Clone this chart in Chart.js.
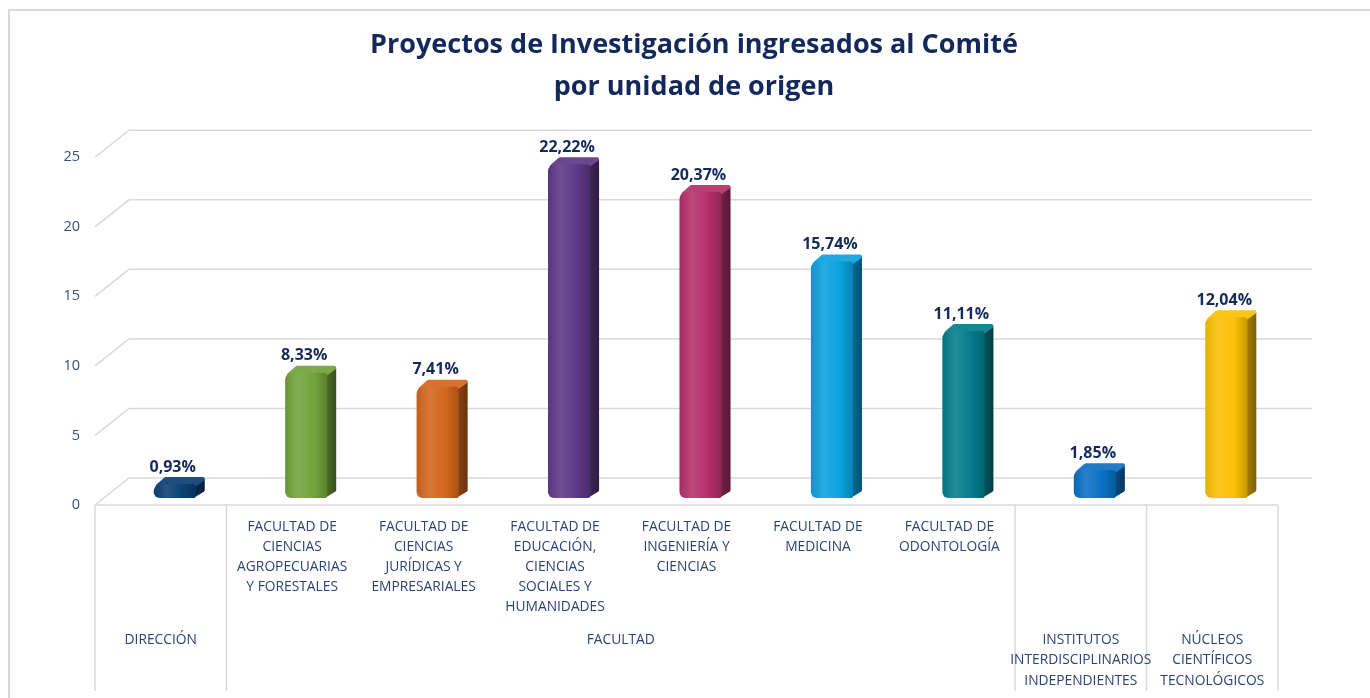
<!DOCTYPE html>
<html>
<head>
    <meta charset="utf-8" />
    <title>Proyectos de Investigación</title>
    <script src="https://cdn.jsdelivr.net/npm/chart.js@4.4.0/dist/chart.umd.min.js"></script>
    <style>
        body {
            margin: 0;
            background: #ffffff;
            overflow: hidden;
            font-family: 'Open Sans', sans-serif;
        }

        .frame {
            position: absolute;
            left: 8px;
            top: 9px;
            width: 1360px;
            height: 687px;
            border-left: 2px solid #d9d9d9;
            border-top: 2px solid #d9d9d9;
        }

        .wrap {
            position: absolute;
            left: 0;
            top: 0;
        }
    </style>
</head>
<body>
<div class="frame"></div>
<div class="wrap"><canvas id="chart" width="1370" height="698"></canvas></div>

<script>
    // Datos
    const subLabels = [
        [],
        ['FACULTAD DE', 'CIENCIAS', 'AGROPECUARIAS', 'Y FORESTALES'],
        ['FACULTAD DE', 'CIENCIAS', 'JURÍDICAS Y', 'EMPRESARIALES'],
        ['FACULTAD DE', 'EDUCACIÓN,', 'CIENCIAS', 'SOCIALES Y', 'HUMANIDADES'],
        ['FACULTAD DE', 'INGENIERÍA Y', 'CIENCIAS'],
        ['FACULTAD DE', 'MEDICINA'],
        ['FACULTAD DE', 'ODONTOLOGÍA'],
        [],
        []
    ];
    const groupLabels = [
        ['DIRECCIÓN'],
        ['FACULTAD'],
        ['INSTITUTOS', 'INTERDISCIPLINARIOS', 'INDEPENDIENTES'],
        ['NÚCLEOS', 'CIENTÍFICOS', 'TECNOLÓGICOS']
    ];
    const groupStart = [0, 1, 7, 8];
    const proyectos = [1, 9, 8, 24, 22, 17, 12, 2, 13];
    const porcentajes = ['0,93%', '8,33%', '7,41%', '22,22%', '20,37%', '15,74%', '11,11%', '1,85%', '12,04%'];
    const barColors = ['#0c3f73', '#72a23a', '#d3661d', '#5f3786', '#b3306a', '#0aa2de', '#047c8c', '#0a70c2', '#fbbf05'];

    const labels = subLabels.map((s, i) => s.length ? s.join(' ') : groupLabels[groupStart.indexOf(i)].join(' '));

    // perspectiva
    const DEPTH_X = 34, DEPTH_Y = -27;   // pared del fondo
    const BAR_DX = 14, BAR_DY = -7;      // cara frontal de la barra
    const SIDE_X = 9, SIDE_Y = -7;       // grosor de la barra
    const gridColor = '#d9d9d9';
    const textColor = '#2c4374';

    function shade(hex, amt) {
        const n = parseInt(hex.slice(1), 16);
        let r = n >> 16, g = (n >> 8) & 255, b = n & 255;
        const t = amt < 0 ? 0 : 255, p = Math.abs(amt);
        r = Math.round(r + (t - r) * p);
        g = Math.round(g + (t - g) * p);
        b = Math.round(b + (t - b) * p);
        return `rgb(${r},${g},${b})`;
    }

    function poly(ctx, pts) {
        ctx.beginPath();
        pts.forEach((p, i) => i ? ctx.lineTo(p[0], p[1]) : ctx.moveTo(p[0], p[1]));
        ctx.closePath();
        ctx.fill();
        ctx.stroke();
    }

    function groupEdges(chart) {
        const a = chart.chartArea, x = chart.scales.x;
        const inner = groupStart.slice(1).map(i => (x.getPixelForValue(i - 1) + x.getPixelForValue(i)) / 2);
        return [a.left, ...inner, a.right];
    }

    const plot3d = {
        id: 'plot3d',
        beforeDatasetsDraw(chart) {
            const ctx = chart.ctx, a = chart.chartArea, y = chart.scales.y;
            ctx.save();
            ctx.strokeStyle = gridColor;
            ctx.lineWidth = 1.5;
            y.ticks.forEach(t => {
                const py = y.getPixelForValue(t.value);
                ctx.beginPath();
                ctx.moveTo(a.left, py);
                ctx.lineTo(a.left + DEPTH_X, py + DEPTH_Y);
                ctx.lineTo(a.right + DEPTH_X, py + DEPTH_Y);
                ctx.stroke();
            });
            const y0 = y.getPixelForValue(0);
            ctx.beginPath();
            ctx.moveTo(a.left, y0);
            ctx.lineTo(a.right, y0);
            ctx.stroke();
            groupEdges(chart).forEach(ex => {
                ctx.beginPath();
                ctx.moveTo(ex, y0);
                ctx.lineTo(ex, chart.height - 7);
                ctx.stroke();
            });

            // caras lateral y superior
            const meta = chart.getDatasetMeta(0);
            ctx.lineJoin = 'round';
            ctx.lineWidth = 4;
            meta.data.forEach((bar, i) => {
                const p = bar.getProps(['x', 'y', 'base', 'width'], true);
                const l = p.x - p.width / 2 + BAR_DX, r = p.x + p.width / 2 + BAR_DX;
                const t = p.y + BAR_DY, b = p.base + BAR_DY;
                const c = barColors[i];
                const sg = ctx.createLinearGradient(r, 0, r + SIDE_X, 0);
                sg.addColorStop(0, shade(c, -0.35));
                sg.addColorStop(1, shade(c, -0.5));
                ctx.fillStyle = ctx.strokeStyle = sg;
                poly(ctx, [[r - 3, t + 3], [r + SIDE_X - 2, t + SIDE_Y + 3], [r + SIDE_X - 2, b + SIDE_Y - 1], [r - 3, b - 2]]);
                ctx.fillStyle = ctx.strokeStyle = shade(c, 0.08);
                poly(ctx, [[l + 4, t + 2], [l + SIDE_X + 3, t + SIDE_Y + 2], [r + SIDE_X - 2, t + SIDE_Y + 2], [r - 3, t + 2]]);
            });
            ctx.restore();
            ctx.save();
            ctx.translate(BAR_DX, BAR_DY);
        },
        afterDatasetsDraw(chart) {
            const ctx = chart.ctx;
            ctx.restore();
            const meta = chart.getDatasetMeta(0);
            const x = chart.scales.x, y = chart.scales.y;

            ctx.save();
            ctx.textAlign = 'center';
            ctx.textBaseline = 'middle';
            ctx.fillStyle = '#142a5c';
            ctx.font = 'bold 16px "Open Sans"';
            meta.data.forEach((bar, i) => {
                ctx.fillText(porcentajes[i], bar.x + BAR_DX - 2, bar.y + BAR_DY - 17);
            });

            // etiquetas de categoria en dos niveles
            const y0 = y.getPixelForValue(0);
            ctx.fillStyle = textColor;
            ctx.font = '13.8px "Open Sans"';
            subLabels.forEach((lines, i) => {
                lines.forEach((s, k) => ctx.fillText(s, x.getPixelForValue(i), y0 + 22 + k * 20));
            });
            const edges = groupEdges(chart);
            groupLabels.forEach((lines, g) => {
                const cx = (edges[g] + edges[g + 1]) / 2;
                lines.forEach((s, k) => ctx.fillText(s, cx, y0 + 135 + k * 20.5));
            });
            ctx.restore();
        }
    };

    const chart = new Chart(document.getElementById('chart'), {
        type: 'bar',
        data: {
            labels: labels,
            datasets: [{
                data: proyectos,
                backgroundColor: (c) => {
                    const base = barColors[c.dataIndex];
                    const xs = c.chart.scales.x;
                    if (!xs || !c.chart.chartArea) return base;
                    const cx = xs.getPixelForValue(c.dataIndex);
                    const g = c.chart.ctx.createLinearGradient(cx - 21, 0, cx + 21, 0);
                    g.addColorStop(0, shade(base, -0.08));
                    g.addColorStop(0.3, shade(base, 0.12));
                    g.addColorStop(0.7, base);
                    g.addColorStop(1, shade(base, -0.2));
                    return g;
                },
                borderWidth: 0,
                borderSkipped: false,
                borderRadius: { topLeft: 7, topRight: 3, bottomLeft: 6, bottomRight: 2 },
                barPercentage: 0.32,
                categoryPercentage: 1
            }]
        },
        options: {
            responsive: false,
            animation: false,
            layout: { padding: { left: 18, right: 0, top: 0, bottom: 0 } },
            plugins: {
                legend: { display: false },
                tooltip: { enabled: false },
                title: {
                    display: true,
                    text: ['Proyectos de Investigación ingresados al Comité', 'por unidad de origen'],
                    color: '#13295b',
                    font: { family: 'Open Sans', size: 27, weight: 'bold', lineHeight: 1.56 },
                    padding: { top: 24, bottom: 49 }
                }
            },
            scales: {
                x: {
                    ticks: { display: false },
                    grid: { display: false, drawTicks: false },
                    border: { display: false },
                    afterFit(s) { s.height = 193; }
                },
                y: {
                    min: 0,
                    max: 25,
                    ticks: { stepSize: 5, padding: 15, color: '#34507f', font: { family: 'Open Sans', size: 14.5 } },
                    grid: { display: false, drawTicks: false },
                    border: { display: false },
                    afterFit(s) { s.width = 77; }
                },
                // eje vacio a la derecha, solo reserva espacio
                yRight: {
                    position: 'right',
                    display: true,
                    ticks: { display: false },
                    grid: { display: false, drawTicks: false },
                    border: { display: false },
                    afterFit(s) { s.width = 92; }
                }
            }
        },
        plugins: [plot3d]
    });
</script>
</body>
</html>
